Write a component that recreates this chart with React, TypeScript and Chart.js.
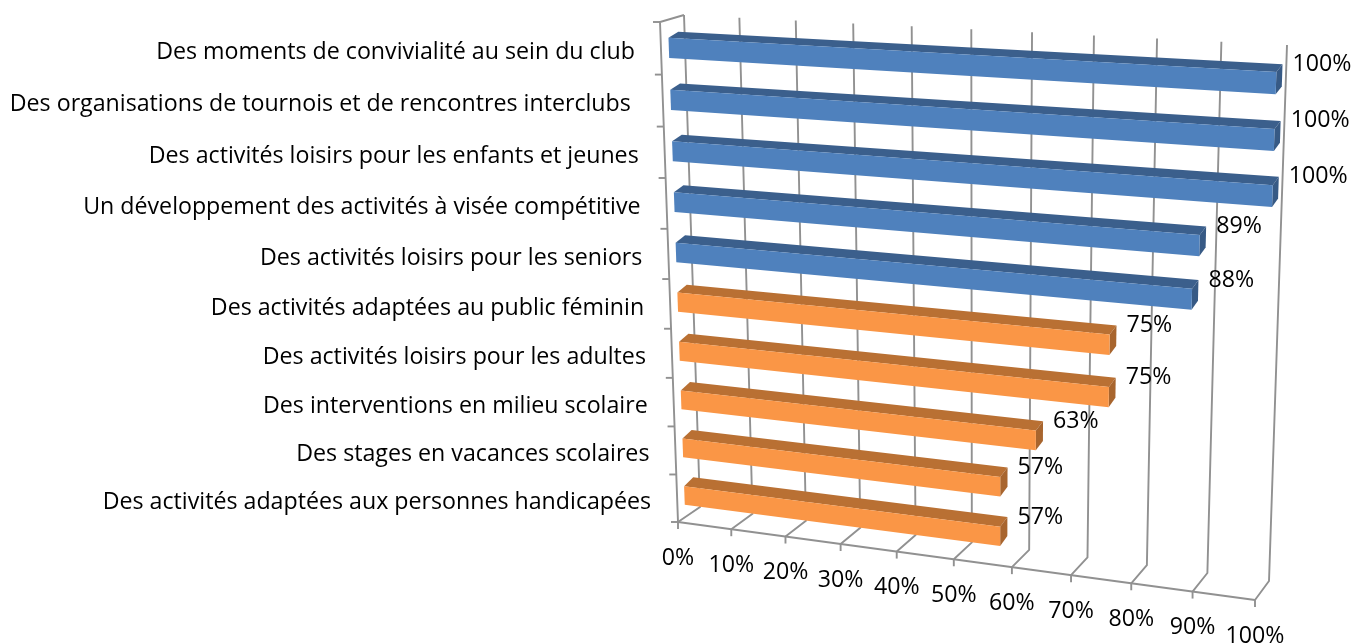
import React, { useEffect, useRef } from "react";
import { Chart, registerables } from "chart.js";

Chart.register(...registerables);

const categories = [
  "Des moments de convivialité au sein du club",
  "Des organisations de tournois et de rencontres interclubs ",
  "Des activités loisirs pour les enfants et jeunes",
  "Un développement des activités à visée compétitive",
  "Des activités loisirs pour les seniors",
  "Des activités adaptées au public féminin",
  "Des activités loisirs pour les adultes",
  "Des interventions en milieu scolaire",
  "Des stages en vacances scolaires",
  "Des activités adaptées aux personnes handicapées",
];
const values = [100, 100, 100, 89, 88, 75, 75, 63, 57, 57];
const xTicks = [0, 10, 20, 30, 40, 50, 60, 70, 80, 90, 100];
const BLUE = "#4F81BD";
const ORANGE = "#FA9646";
const barColors = values.map((v) => (v > 80 ? BLUE : ORANGE));
const topColors: Record<string, string> = { [BLUE]: "#3B5F8C", [ORANGE]: "#B97033" };
const sideColors: Record<string, string> = { [BLUE]: "#375A85", [ORANGE]: "#A8652E" };

type Pt = [number, number];
const frontCorners: Pt[] = [[660, 22], [1272, 56], [1255, 600], [678, 522]];
const backCorners: Pt[] = [[684, 15], [1287, 45], [1269, 581], [700, 507]];
const BAR_Z0 = 0.33;
const BAR_Z1 = 0.74;
const BAR_LIFT = 3;
const BAR_SHIFT = 2;
const GRID = "#919191";
const FONT = "'Open Sans'";
const FONT_SIZE = 23.2;

function homography(q: Pt[]) {
  const [[x0, y0], [x1, y1], [x2, y2], [x3, y3]] = q;
  const dx1 = x1 - x2, dx2 = x3 - x2, dx3 = x0 - x1 + x2 - x3;
  const dy1 = y1 - y2, dy2 = y3 - y2, dy3 = y0 - y1 + y2 - y3;
  const den = dx1 * dy2 - dx2 * dy1;
  const g = (dx3 * dy2 - dx2 * dy3) / den;
  const h = (dx1 * dy3 - dx3 * dy1) / den;
  const a = x1 - x0 + g * x1, b = x3 - x0 + h * x3, c = x0;
  const d = y1 - y0 + g * y1, e = y3 - y0 + h * y3, f = y0;
  return (u: number, v: number): Pt => {
    const w = g * u + h * v + 1;
    return [(a * u + b * v + c) / w, (d * u + e * v + f) / w];
  };
}
const frontH = homography(frontCorners);
const backH = homography(backCorners);

const projection3D = {
  id: "projection3D",
  beforeDatasetDraw() {
    return false;
  },
  afterDatasetsDraw(chart: any) {
    const { ctx, chartArea: ca, scales } = chart;
    const U = (px: number) => (px - ca.left) / ca.width;
    const V = (py: number) => (py - ca.top) / ca.height;
    const P = (px: number, py: number, z: number): Pt => {
      const a = frontH(U(px), V(py));
      const b = backH(U(px), V(py));
      return [a[0] + (b[0] - a[0]) * z, a[1] + (b[1] - a[1]) * z];
    };
    const Q = (px: number, py: number, z: number): Pt => {
      const p = P(px, py, z);
      return [p[0], p[1] + BAR_SHIFT - (z === BAR_Z1 ? BAR_LIFT : 0)];
    };
    const line = (pts: Pt[]) => {
      ctx.beginPath();
      pts.forEach((p, i) => (i ? ctx.lineTo(p[0], p[1]) : ctx.moveTo(p[0], p[1])));
      ctx.stroke();
    };
    const poly = (pts: Pt[], fill: string) => {
      ctx.beginPath();
      pts.forEach((p, i) => (i ? ctx.lineTo(p[0], p[1]) : ctx.moveTo(p[0], p[1])));
      ctx.closePath();
      ctx.fillStyle = fill;
      ctx.fill();
    };
    ctx.save();
    ctx.strokeStyle = GRID;
    ctx.lineWidth = 1.9;
    const xs = scales.x, ys = scales.y;

    // walls + floor
    const L = ca.left, R = ca.right, T = ca.top, B = ca.bottom;
    line([P(L, B, 0), P(L, T, 0), P(L, T, 1)]);
    line([P(L, B, 0), P(R, B, 0)]);
    xTicks.forEach((t) => {
      const px = xs.getPixelForValue(t);
      line([P(px, T, 1), P(px, B, 1), P(px, B, 0)]);
      const f = P(px, B, 0);
      line([f, [f[0], f[1] + 7]]);
    });
    categories.forEach((_, i) => {
      const py = i === 0 ? T : ys.getPixelForValue(i - 0.5);
      const f = P(L, py, 0);
      line([f, [f[0] - 7, f[1]]]);
    });
    const bl = P(L, B, 0);
    line([bl, [bl[0] - 7, bl[1]]]);

    // bars
    const meta = chart.getDatasetMeta(0);
    meta.data.forEach((el: any, i: number) => {
      const c = barColors[i];
      const y0 = el.y - el.height / 2, y1 = el.y + el.height / 2;
      const x0 = el.base, x1 = el.x;
      poly([Q(x0, y0, BAR_Z0), Q(x0, y0, BAR_Z1), Q(x1, y0, BAR_Z1), Q(x1, y0, BAR_Z0)], topColors[c]);
      poly([Q(x1, y0, BAR_Z0), Q(x1, y0, BAR_Z1), Q(x1, y1, BAR_Z1), Q(x1, y1, BAR_Z0)], sideColors[c]);
      poly([Q(x0, y0, BAR_Z0), Q(x1, y0, BAR_Z0), Q(x1, y1, BAR_Z0), Q(x0, y1, BAR_Z0)], c);
    });

    // text
    ctx.fillStyle = "#000";
    ctx.font = `${FONT_SIZE}px ${FONT}`;
    ctx.textBaseline = "middle";
    ctx.textAlign = "right";
    categories.forEach((label, i) => {
      const f = P(L, ys.getPixelForValue(i), 0);
      ctx.fillText(label, f[0] - 26, f[1] + 4);
    });
    ctx.textAlign = "left";
    meta.data.forEach((el: any, i: number) => {
      const p = Q(el.x, el.y - el.height / 2, BAR_Z1);
      ctx.fillText(`${values[i]}%`, p[0] + 10, p[1]);
    });
    ctx.textAlign = "center";
    xTicks.forEach((t) => {
      const f = P(xs.getPixelForValue(t), B, 0);
      ctx.fillText(`${t}%`, f[0], f[1] + 36);
    });
    ctx.restore();
  },
};

export default function App() {
  const ref = useRef<HTMLCanvasElement>(null);
  useEffect(() => {
    const chart = new Chart(ref.current!, {
      type: "bar",
      data: {
        labels: categories,
        datasets: [{ data: values, backgroundColor: barColors, barPercentage: 0.39, categoryPercentage: 1 }],
      },
      options: {
        indexAxis: "y",
        responsive: false,
        animation: false,
        layout: { padding: { left: 680, right: 70, top: 20, bottom: 60 } },
        plugins: { legend: { display: false }, tooltip: { enabled: false }, title: { display: false } },
        scales: {
          x: { min: 0, max: 100, display: false },
          y: { display: false },
        },
      },
      plugins: [projection3D],
    } as any);
    return () => chart.destroy();
  }, []);
  return (
    <canvas
      ref={ref}
      width={1356}
      height={644}
      style={{ position: "fixed", left: 0, top: 0, width: 1356, height: 644, display: "block", background: "#fff" }}
    />
  );
}
